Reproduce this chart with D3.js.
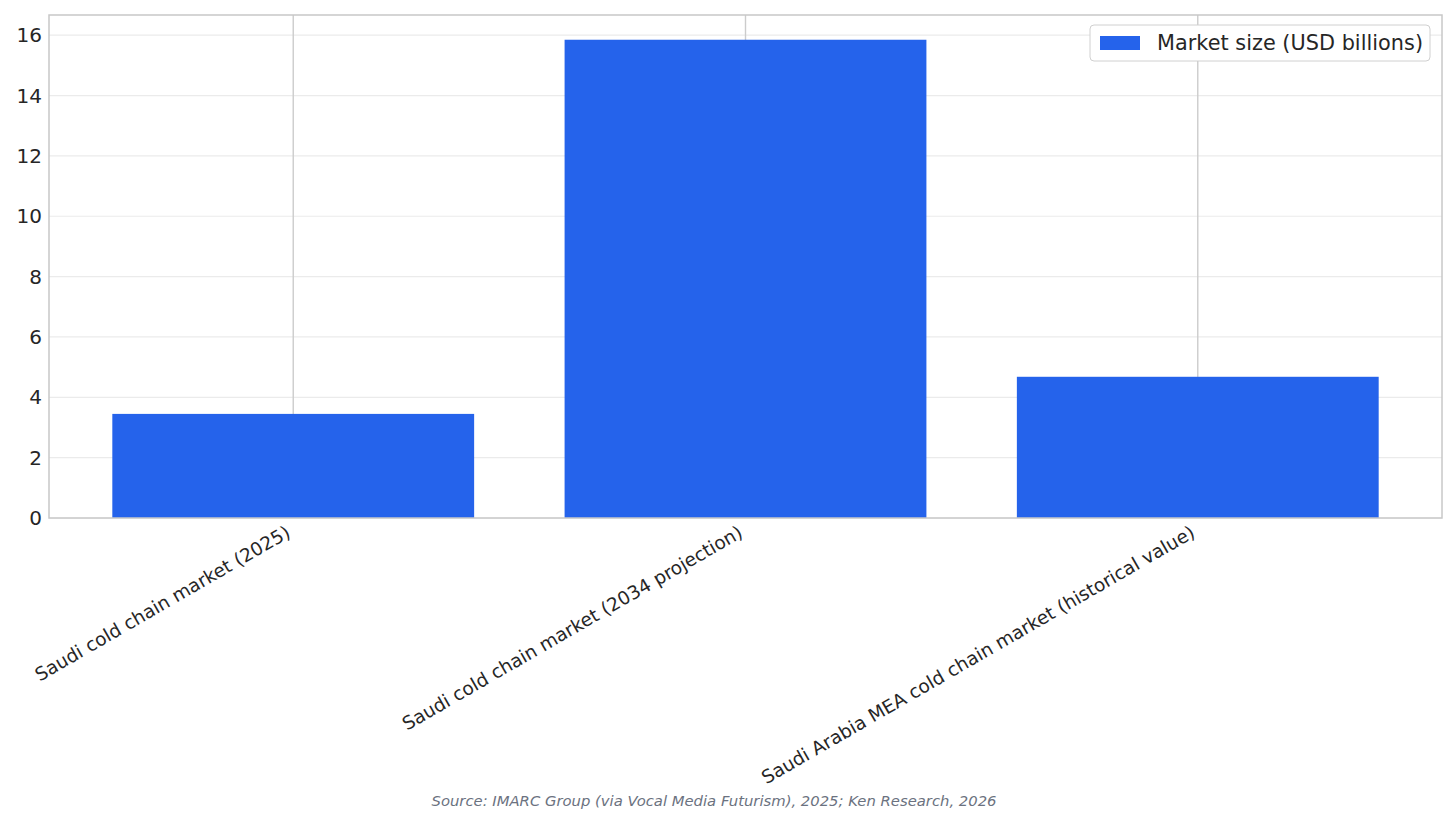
<!DOCTYPE html>
<html><head><meta charset="utf-8">
<script src="https://cdn.jsdelivr.net/npm/d3@7"></script>
<style>body{margin:0;background:#fff;font-family:"DejaVu Sans",sans-serif}</style>
</head><body>
<svg id="c" width="1456" height="824"></svg>
<script>
const categories = ["Saudi cold chain market (2025)","Saudi cold chain market (2034 projection)","Saudi Arabia MEA cold chain market (historical value)"];
const values = [3.45, 15.85, 4.68];
const yTicks = [0,2,4,6,8,10,12,14,16];
const seriesName = "Market size (USD billions)";
const source = "Source: IMARC Group (via Vocal Media Futurism), 2025; Ken Research, 2026";

const svg = d3.select("#c");
const L=49,R=1442,T=15,B=518;
const x = d3.scaleBand().domain(categories).range([L,R]).paddingInner(0.2).paddingOuter(0.14);
const y = d3.scaleLinear().domain([0,16.67]).range([B,T]);

svg.append("g").selectAll("line").data(yTicks).join("line")
 .attr("x1",L).attr("x2",R).attr("y1",d=>y(d)).attr("y2",d=>y(d)).attr("stroke","#ebebeb").attr("stroke-width",1.2);
svg.append("g").selectAll("line").data(categories).join("line")
 .attr("x1",d=>x(d)+x.bandwidth()/2).attr("x2",d=>x(d)+x.bandwidth()/2).attr("y1",T).attr("y2",B).attr("stroke","#cccccc").attr("stroke-width",1.4);

svg.append("g").selectAll("rect").data(values).join("rect")
 .attr("x",(d,i)=>x(categories[i])).attr("width",x.bandwidth())
 .attr("y",d=>y(d)).attr("height",d=>B-y(d)).attr("fill","#2563eb");

svg.append("rect").attr("x",L).attr("y",T).attr("width",R-L).attr("height",B-T).attr("fill","none").attr("stroke","#c8c8c8").attr("stroke-width",1.5);

svg.append("g").selectAll("text").data(yTicks).join("text")
 .attr("x",L-7).attr("y",d=>y(d)).attr("dy","0.35em").attr("text-anchor","end")
 .attr("font-size",20).attr("fill","#262626").text(d=>d);

svg.append("g").selectAll("text").data(categories).join("text")
 .attr("transform",d=>`translate(${x(d)+x.bandwidth()/2-8},${B+7}) rotate(-30)`)
 .attr("text-anchor","end").attr("dy","0.7em").attr("font-size",18.5).attr("fill","#262626").text(d=>d);

const lg = svg.append("g");
lg.append("rect").attr("x",1090).attr("y",25).attr("width",340).attr("height",36).attr("rx",4).attr("fill","#fff").attr("stroke","#d0d0d0");
lg.append("rect").attr("x",1100).attr("y",36).attr("width",40).attr("height",14).attr("fill","#2563eb");
lg.append("text").attr("x",1157).attr("y",43).attr("dy","0.35em").attr("font-size",20.8).attr("textLength",266).attr("fill","#262626").text(seriesName);

svg.append("text").attr("x",714).attr("y",806).attr("text-anchor","middle").attr("font-size",14.8).attr("font-style","italic").attr("fill","#6b7280").text(source);
</script>
</body></html>
